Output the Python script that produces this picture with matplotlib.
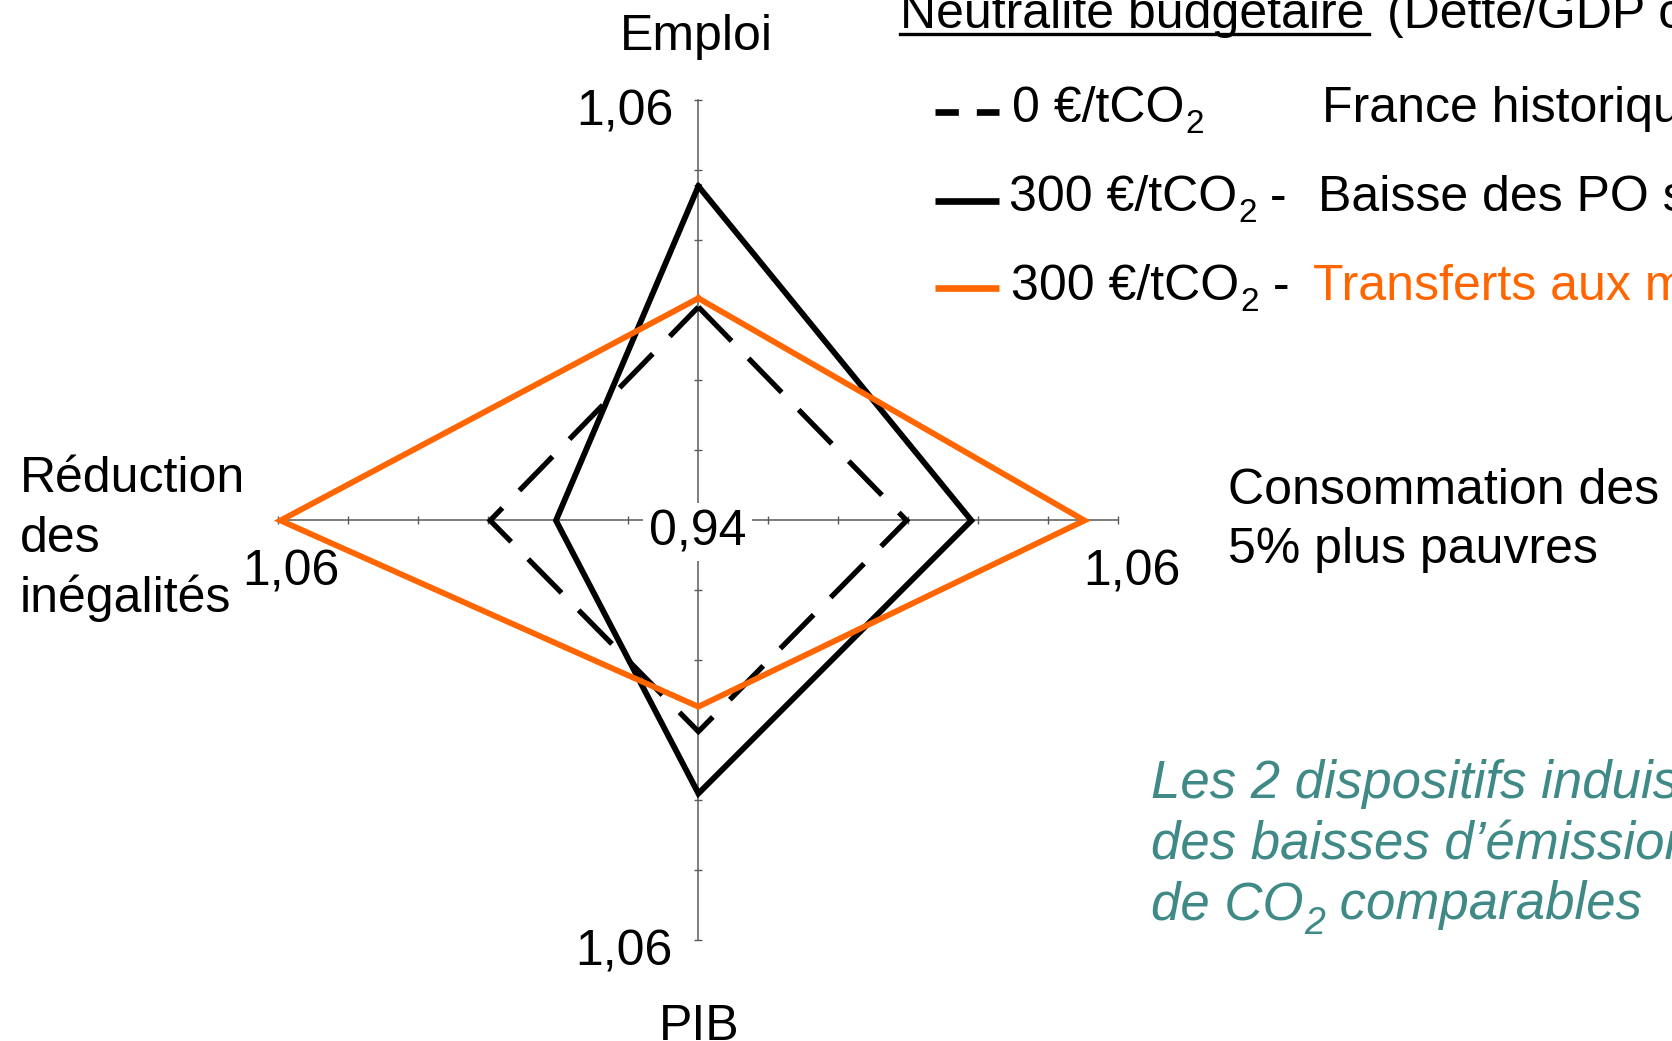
import numpy as np
import matplotlib
matplotlib.use("Agg")
import matplotlib.pyplot as plt
from matplotlib.lines import Line2D

plt.rcParams['font.family'] = ['Liberation Sans', 'DejaVu Sans']

# ---------------- data ----------------
categories = ["Emploi", "Consommation des", "PIB", "Réduction des inégalités"]
taxe_0 = [1.001, 0.9995, 1.0003, 0.9995]          # 0 €/tCO2 - France historique
baisse_po = [1.0355, 1.018, 1.018, 0.9807]        # 300 €/tCO2 - Baisse des PO
transferts = [1.0035, 1.0503, 0.9932, 1.0594]     # 300 €/tCO2 - Transferts aux ménages
r_min, r_max = 0.94, 1.06
tick_values = [0.96, 0.98, 1.00, 1.02, 1.04, 1.06]
label_min = "0,94"
label_max = "1,06"

ORANGE = "#FF6600"
TEAL = "#3F8A86"
AXGRAY = "#5a5a5a"

W, H = 1672, 1041
fig = plt.figure(figsize=(W / 100, H / 100), dpi=100)
renderer = fig.canvas.get_renderer()

def fx(x):
    return x / W

def fy(y):
    return 1 - y / H

def T(x, y, s, **kw):
    kw.setdefault('va', 'baseline')
    kw.setdefault('fontsize', 36)
    return fig.text(fx(x), fy(y), s, **kw)

def T_sub(x, y, base, sub, rest="", fs=36, sub_fs=24, drop=11, **kw):
    t1 = T(x, y, base, ha='left', fontsize=fs, **kw)
    x1 = t1.get_window_extent(renderer).x1
    t2 = T(x1 + 1, y + drop, sub, ha='left', fontsize=sub_fs, **kw)
    x2 = t2.get_window_extent(renderer).x1
    if rest:
        T(x2, y, rest, ha='left', fontsize=fs, **kw)

# ---------------- radar axes ----------------
cx, cy, R = 698.4, 520.5, 420.0
ax = fig.add_axes([(cx - R) / W, 1 - (cy + R) / H, 2 * R / W, 2 * R / H], projection='polar')
ax.set_theta_zero_location('N')
ax.set_theta_direction(-1)
ax.set_ylim(r_min, r_max)
ax.grid(False)
ax.set_xticks([])
ax.set_yticks([])
ax.spines['polar'].set_visible(False)
ax.patch.set_alpha(0)

n = len(categories)
angles = [2 * np.pi * i / n for i in range(n)]

# axes lines and ticks
for i, th in enumerate(angles):
    ax.plot([th, th], [r_min, r_max], color=AXGRAY, lw=1.1, clip_on=False, zorder=1)
    mk = '_' if i % 2 == 0 else '|'
    ax.plot([th] * len(tick_values), tick_values, ls='none', marker=mk, ms=5.5,
            mew=1.0, color=AXGRAY, clip_on=False, zorder=1)

def closed(v):
    return angles + [angles[0]], list(v) + [v[0]]

a, v = closed(taxe_0)
ax.plot(a, v, color='black', lw=3.8, dashes=(9, 4.6), solid_joinstyle='miter',
        dash_joinstyle='miter', clip_on=False, zorder=3)
a, v = closed(baisse_po)
ax.plot(a, v, color='black', lw=4.2, solid_joinstyle='miter', clip_on=False, zorder=4)
a, v = closed(transferts)
ax.plot(a, v, color=ORANGE, lw=4.2, solid_joinstyle='miter', clip_on=False, zorder=5)

# ---------------- tick labels ----------------
T(674, 125, label_max, ha='right')
T(673, 965, label_max, ha='right')
T(291, 585, label_max, ha='center')
T(1131.5, 585, label_max, ha='center')
T(697.5, 545, label_min, ha='center',
  bbox=dict(boxstyle='square,pad=0.12', fc='white', ec='none'))

# ---------------- axis labels ----------------
T(696, 50, "Emploi", ha='center')
T(699, 1040, "PIB", ha='center')
T(20, 491.7, "Réduction", ha='left')
T(20, 551.7, "des", ha='left')
T(20, 611.7, "inégalités", ha='left')
T(1228, 504, "Consommation des", ha='left')
T(1228, 562.7, "5% plus pauvres", ha='left')

# ---------------- legend ----------------
T(900, 28.3, "Neutralité budgétaire", ha='left')
fig.add_artist(Line2D([fx(900), fx(1369)], [fy(34.3), fy(34.3)], transform=fig.transFigure,
                      color='black', lw=2.4))
T(1387, 28.3, "(Dette/GDP constante)", ha='left')

fig.add_artist(Line2D([fx(934.5), fx(999)], [fy(111.7), fy(111.7)], transform=fig.transFigure,
                      color='black', lw=4.8, dashes=(3.5, 2.7), solid_capstyle='butt',
                      dash_capstyle='butt'))
T_sub(1012, 121.7, "0 €/tCO", "2")
T(1322, 121.7, "France historique", ha='left')

fig.add_artist(Line2D([fx(934.5), fx(999)], [fy(200.7), fy(200.7)], transform=fig.transFigure,
                      color='black', lw=4.8, solid_capstyle='butt'))
T_sub(1008.8, 210.7, "300 €/tCO", "2", " -")
T(1318, 210.7, "Baisse des PO sur le travail", ha='left')

fig.add_artist(Line2D([fx(934.5), fx(999)], [fy(288.3), fy(288.3)], transform=fig.transFigure,
                      color=ORANGE, lw=4.8, solid_capstyle='butt'))
T_sub(1011, 300, "300 €/tCO", "2", " -")
T(1313, 300, "Transferts aux ménages", ha='left', color=ORANGE)

# ---------------- comment ----------------
T(1151, 798, "Les 2 dispositifs induisent", ha='left', color=TEAL, style='italic', fontsize=38)
T(1151, 859, "des baisses d’émissions", ha='left', color=TEAL, style='italic', fontsize=38)
T_sub(1151, 919, "de CO", "2", " comparables", fs=38, sub_fs=27, drop=15,
      color=TEAL, style='italic')

fig.savefig("out.png", dpi=100, facecolor='white')
